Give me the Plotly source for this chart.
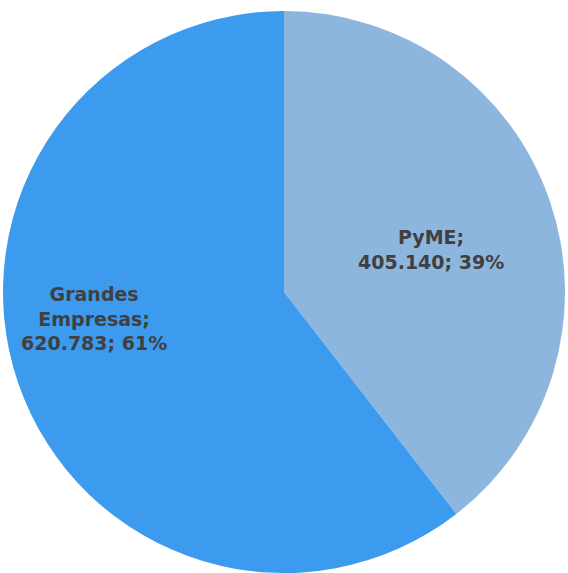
import plotly.graph_objects as go

labels = ["PyME", "Grandes Empresas"]
label_lines = ["PyME;", "Grandes<br>Empresas;"]
values = [405140, 620783]
colors = ["#8DB6DF", "#3C9BEE"]
label_pos = [(431 / 568, 1 - 249 / 573), (93.5 / 568, 1 - 318 / 573)]

total = sum(values)

def fmt(v):
    return f"{v:,.0f}".replace(",", ".")

fig = go.Figure(go.Pie(
    labels=labels,
    values=values,
    marker=dict(colors=colors, line=dict(width=0)),
    sort=False,
    direction="clockwise",
    rotation=0,
    textinfo="none",
    hoverinfo="skip",
    domain=dict(x=[3 / 568, 565 / 568], y=[0, 562 / 573]),
))

for lab, v, (px, py) in zip(label_lines, values, label_pos):
    pct = round(100 * v / total)
    fig.add_annotation(
        x=px, y=py, xref="paper", yref="paper",
        text=f"<b>{lab}<br>{fmt(v)}; {pct}%</b>",
        showarrow=False, align="center",
        xanchor="center", yanchor="middle",
        font=dict(family="DejaVu Sans", size=19, color="#404040"),
    )

fig.update_layout(
    width=568, height=573,
    margin=dict(l=0, r=0, t=0, b=0),
    showlegend=False,
    paper_bgcolor="white",
)
fig.write_html("out.html", config={"displayModeBar": False},
               post_script="document.body.style.margin='0';")
